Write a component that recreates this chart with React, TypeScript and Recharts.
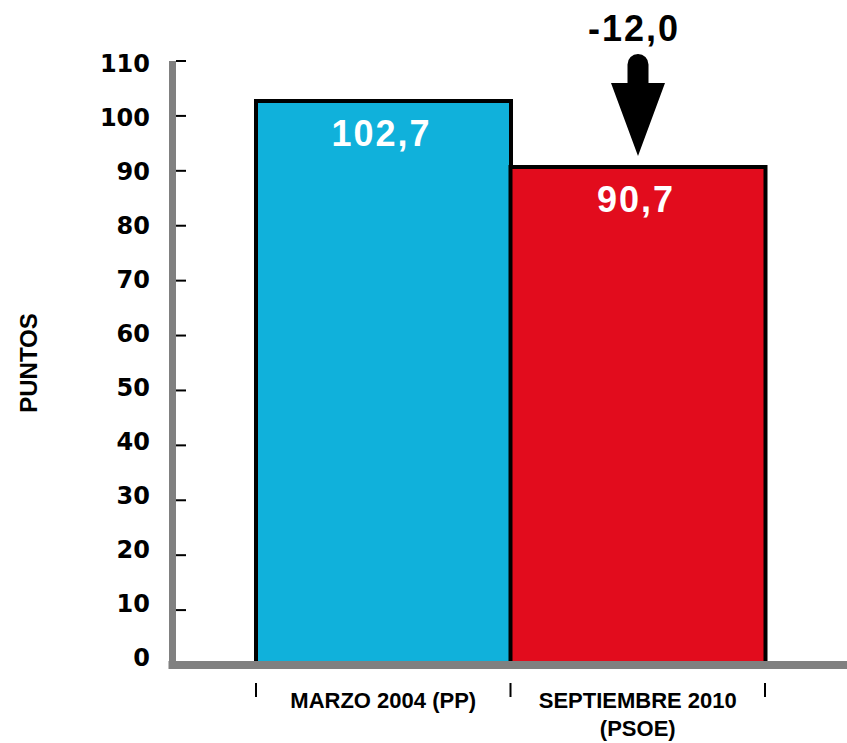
import { BarChart, Bar, XAxis, YAxis, Cell, Label } from 'recharts';

// categorías y valores (puntos)
const CATEGORIES = ['MARZO 2004 (PP)', 'SEPTIEMBRE 2010 (PSOE)'];
const CATEGORY_LINES = [['MARZO 2004 (PP)'], ['SEPTIEMBRE 2010', '(PSOE)']];
const VALUES = [102.7, 90.7];
const BAR_COLORS = ['#10b1db', '#e20c1d'];
const Y_TICKS = [0, 10, 20, 30, 40, 50, 60, 70, 80, 90, 100, 110];

const AXIS_GRAY = '#808080';
const LABEL_FONT = '"Liberation Sans", Arial, sans-serif';

const data = CATEGORIES.map((name, i) => ({ name, value: VALUES[i] }));

const fmt = (n: number) => n.toFixed(1).replace('.', ',');

function YTick({ x, y, payload }: any) {
  const v = payload.value as number;
  // las etiquetas van un poco desplazadas respecto a las marcas
  const drift = -8 + v * 0.0973;
  return (
    <g>
      {v > 0 && <line x1={x + 26} x2={x + 36} y1={y} y2={y} stroke="#000" strokeWidth={2} />}
      <text
        x={x}
        y={y + drift + 8.7}
        textAnchor="end"
        fontFamily='"DejaVu Sans", sans-serif'
        fontWeight="bold"
        fontSize={24}
        fill="#000"
      >
        {v}
      </text>
    </g>
  );
}

function XTick({ x, y, payload, index }: any) {
  const lines = CATEGORY_LINES[index] ?? [payload.value];
  const half = payload.offset || 127.25;
  return (
    <g>
      <line x1={x - half} x2={x - half} y1={y + 18} y2={y + 32} stroke="#000" strokeWidth={2} />
      {index === CATEGORIES.length - 1 && (
        <line x1={x + half} x2={x + half} y1={y + 18} y2={y + 32} stroke="#000" strokeWidth={2} />
      )}
      <text x={x} y={y + 43} textAnchor="middle" fontFamily={LABEL_FONT} fontWeight="bold" fontSize={22} fill="#000">
        {lines.map((l: string, i: number) => (
          <tspan key={i} x={x} dy={i === 0 ? 0 : 28}>
            {l}
          </tspan>
        ))}
      </text>
    </g>
  );
}

function BarValueLabel(props: any) {
  const { x, y, width, value, index } = props;
  const cx = x + width / 2;
  const diff = VALUES[1] - VALUES[0];
  return (
    <g>
      <text
        x={cx - 2}
        y={y + 45}
        textAnchor="middle"
        fill="#fff"
        fontFamily={LABEL_FONT}
        fontWeight="bold"
        fontSize={36}
        letterSpacing={2}
      >
        {fmt(value)}
      </text>
      {index === 1 && (
        <g>
          <path
            d={`M ${cx - 10.5} ${y - 84} L ${cx - 27} ${y - 84} L ${cx} ${y - 11} L ${cx + 27} ${y - 84} L ${cx + 10.5} ${y - 84} L ${cx + 10.5} ${y - 102.5} A 10.5 10.5 0 0 0 ${cx - 10.5} ${y - 102.5} Z`}
            fill="#000"
          />
          <text
            x={cx - 4}
            y={y - 126}
            textAnchor="middle"
            fill="#000"
            fontFamily={LABEL_FONT}
            fontWeight="bold"
            fontSize={36}
            letterSpacing={2}
          >
            {fmt(diff)}
          </text>
        </g>
      )}
    </g>
  );
}

export default function App() {
  return (
    <div>
      <style>{'body{margin:0;}'}</style>
      <BarChart width={847} height={743} data={data} margin={{ top: 61, right: 0, bottom: 0, left: 0 }} barCategoryGap={0}>
        <Bar dataKey="value" isAnimationActive={false} stroke="#000" strokeWidth={4} label={(p: any) => <BarValueLabel {...p} />}>
          {data.map((_, i) => (
            <Cell key={`cell-${i}`} fill={BAR_COLORS[i]} />
          ))}
        </Bar>
        <YAxis
          domain={[0, 110]}
          ticks={Y_TICKS}
          width={172.5}
          tickSize={0}
          tickMargin={22.5}
          tickLine={false}
          axisLine={{ stroke: AXIS_GRAY, strokeWidth: 7 }}
          tick={<YTick />}
          interval={0}
        >
          <Label
            content={({ viewBox }: any) => (
              <text
                transform={`translate(${(viewBox?.x ?? 0) + 36.5}, ${(viewBox?.y ?? 61) + (viewBox?.height ?? 604) / 2}) rotate(-90)`}
                textAnchor="middle"
                fontFamily={LABEL_FONT}
                fontWeight="bold"
                fontSize={24}
                fill="#000"
              >
                PUNTOS
              </text>
            )}
          />
        </YAxis>
        <XAxis
          dataKey="name"
          height={78}
          padding={{ left: 83.5, right: 82 }}
          tickSize={0}
          tickMargin={0}
          tickLine={false}
          axisLine={{ stroke: AXIS_GRAY, strokeWidth: 8, strokeLinecap: 'square' }}
          tick={<XTick />}
          interval={0}
        />
      </BarChart>
    </div>
  );
}
